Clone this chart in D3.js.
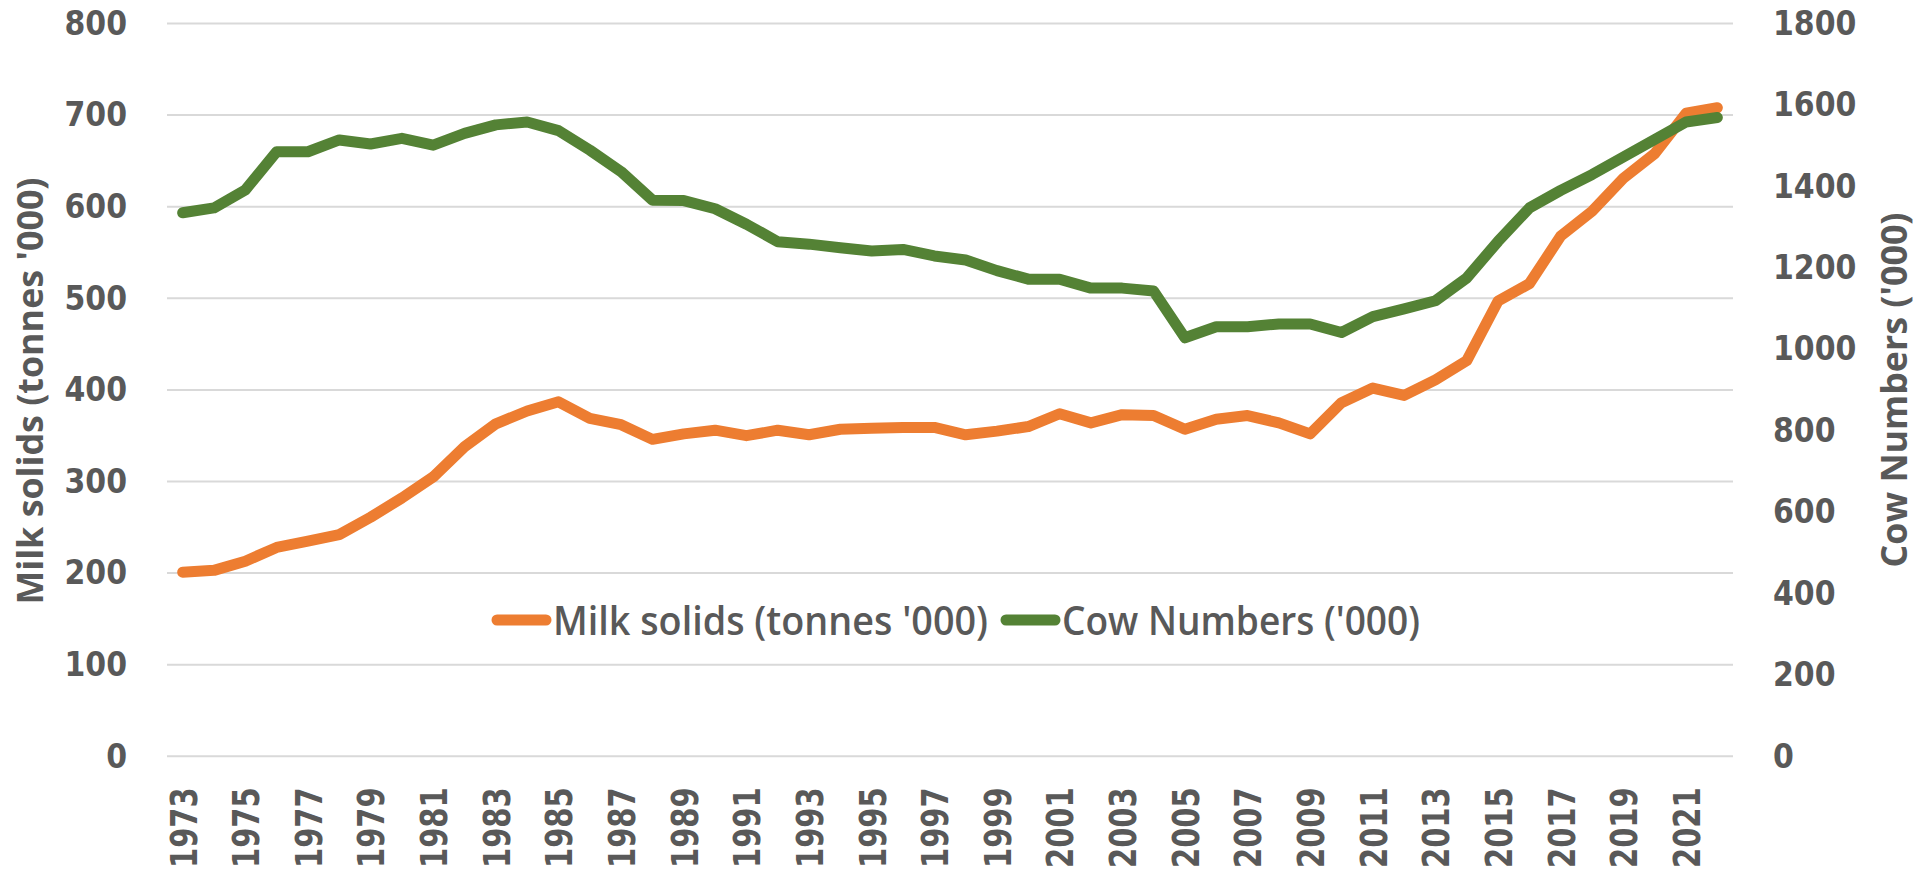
<!DOCTYPE html>
<head>
  <meta charset="utf-8">
  <script src="https://d3js.org/d3.v7.min.js"></script>
  <style>
    body { margin:0; background:#fff; }
    .grid line { stroke:#d9d9d9; stroke-width:2px; }
    .line { fill:none; stroke-width:11px; stroke-linejoin:round; stroke-linecap:round; }
    .tick text { fill:#595959; font-family:"DejaVu Sans"; font-weight:bold; }
    .title { fill:#595959; font-family:"Open Sans"; font-weight:bold; }
    .legend text { fill:#595959; font-family:"Open Sans"; font-weight:600; }
  </style>
</head>

<body>
  <script>
    // values
    var years = d3.range(1973, 2023);

    var milkSolids = [201, 203, 213, 228, 235, 242, 261, 282, 305, 338,
                      363, 377, 387, 369, 362, 346, 352, 356, 350, 356,
                      351, 357, 358, 359, 359, 351, 355, 360, 374, 364,
                      373, 372, 357, 368, 372, 364, 352, 386, 402, 394,
                      411, 432, 497, 516, 568, 595, 631, 658, 702, 708];

    var cowNumbers = [1335, 1347, 1391, 1485, 1485, 1514, 1504, 1518, 1501, 1530,
                      1551, 1558, 1537, 1489, 1436, 1366, 1365, 1345, 1307, 1264,
                      1258, 1249, 1241, 1245, 1229, 1219, 1193, 1172, 1172, 1150,
                      1150, 1143, 1028, 1055, 1055, 1062, 1062, 1041, 1080, 1099,
                      1119, 1175, 1265, 1347, 1390, 1429, 1472, 1515, 1558, 1569];

    var leftTicks = [0, 100, 200, 300, 400, 500, 600, 700, 800];
    var rightTicks = [0, 200, 400, 600, 800, 1000, 1200, 1400, 1600, 1800];
    var yearLabels = years.filter(function(d) { return (d - 1973) % 2 == 0; });

    var seriesNames = ["Milk solids (tonnes '000)", "Cow Numbers ('000)"];
    var colors = ["#ed7d31", "#548235"];

    var width = 1921, height = 874;
    var plot = {left: 167, right: 1733, top: 23.5, bottom: 756.3};

    var svg = d3.select("body").append("svg")
      .attr("width", width)
      .attr("height", height)

    var x = d3.scalePoint()
      .domain(years)
      .range([plot.left, plot.right])
      .padding(0.5)

    var yLeft = d3.scaleLinear()
      .domain([0, 800])
      .range([plot.bottom, plot.top])

    var yRight = d3.scaleLinear()
      .domain([0, 1800])
      .range([plot.bottom, plot.top])

    // gridlines
    svg.append("g")
      .attr("class", "grid")
      .selectAll("line").data(leftTicks).enter()
      .append("line")
      .attr("x1", plot.left)
      .attr("x2", plot.right)
      .attr("y1", function(d) { return yLeft(d); })
      .attr("y2", function(d) { return yLeft(d); })

    // left axis
    var gl = svg.append("g")
      .attr("transform", "translate(" + plot.left + ",0)")
      .call(d3.axisLeft(yLeft).tickValues(leftTicks).tickFormat(d3.format("d")).tickSize(0).tickPadding(40))
    gl.select(".domain").remove()
    gl.selectAll("text")
      .style("font-size", "30px")
      .attr("transform", "scale(1,1.12)")

    // right axis
    var gr = svg.append("g")
      .attr("transform", "translate(" + plot.right + ",0)")
      .call(d3.axisRight(yRight).tickValues(rightTicks).tickFormat(d3.format("d")).tickSize(0).tickPadding(40))
    gr.select(".domain").remove()
    gr.selectAll("text")
      .style("font-size", "30px")
      .attr("transform", "scale(1,1.12)")

    // bottom axis, rotated year labels
    var gx = svg.append("g")
      .attr("transform", "translate(0," + plot.bottom + ")")
      .call(d3.axisBottom(x).tickValues(yearLabels).tickSize(0))
    gx.select(".domain").remove()
    gx.selectAll("text")
      .style("font-size", "29px")
      .attr("x", 0)
      .attr("y", 0)
      .attr("dy", "0.36em")
      .attr("text-anchor", "end")
      .attr("transform", "translate(0,31) rotate(-90) scale(1,1.28)")

    // axis titles
    svg.append("text")
      .attr("class", "title")
      .attr("transform", "translate(43,391) rotate(-90)")
      .attr("text-anchor", "middle")
      .attr("textLength", 427)
      .attr("lengthAdjust", "spacingAndGlyphs")
      .style("font-size", "36px")
      .text(seriesNames[0])

    svg.append("text")
      .attr("class", "title")
      .attr("transform", "translate(1907,390) rotate(-90)")
      .attr("text-anchor", "middle")
      .attr("textLength", 355)
      .attr("lengthAdjust", "spacingAndGlyphs")
      .style("font-size", "36px")
      .text(seriesNames[1])

    // lines: milk on left axis, cows on right axis (drawn on top)
    var milkLine = d3.line()
      .x(function(d, i) { return x(years[i]); })
      .y(function(d) { return yLeft(d); })

    var cowLine = d3.line()
      .x(function(d, i) { return x(years[i]); })
      .y(function(d) { return yRight(d); })

    svg.append("path")
      .attr("class", "line")
      .style("stroke", colors[0])
      .attr("d", milkLine(milkSolids))

    svg.append("path")
      .attr("class", "line")
      .style("stroke", colors[1])
      .attr("d", cowLine(cowNumbers))

    // legend
    var legendItems = [
      {name: seriesNames[0], color: colors[0], x: 497, len: 435},
      {name: seriesNames[1], color: colors[1], x: 1006, len: 358}
    ];

    var lg = svg.append("g").attr("class", "legend")
      .selectAll("g").data(legendItems).enter()
      .append("g")
      .attr("transform", function(d) { return "translate(" + d.x + ",620)"; })

    lg.append("line")
      .attr("x1", 0)
      .attr("x2", 49)
      .attr("y1", 0)
      .attr("y2", 0)
      .style("stroke", function(d) { return d.color; })
      .style("stroke-width", "11px")
      .style("stroke-linecap", "round")

    lg.append("text")
      .attr("x", 56)
      .attr("y", 15)
      .attr("textLength", function(d) { return d.len; })
      .attr("lengthAdjust", "spacingAndGlyphs")
      .style("font-size", "40px")
      .text(function(d) { return d.name; })
  </script>
</body>
